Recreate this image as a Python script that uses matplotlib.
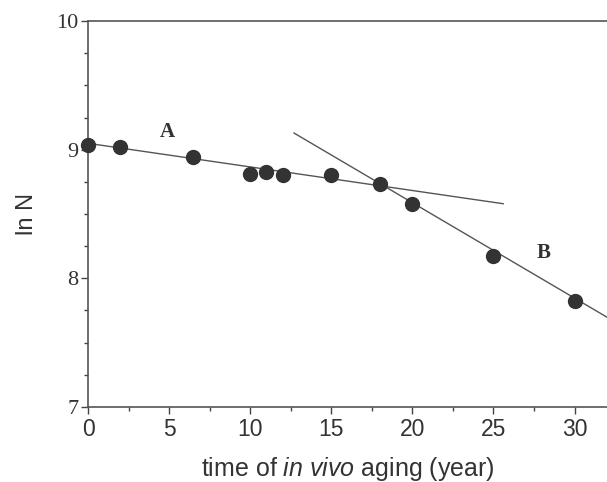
import matplotlib
matplotlib.use("Agg")
import matplotlib.pyplot as plt
from matplotlib.ticker import MultipleLocator

plt.rcParams["mathtext.fontset"] = "custom"
plt.rcParams["mathtext.it"] = "Liberation Sans:italic"
plt.rcParams["mathtext.rm"] = "Liberation Sans"

# data
years = [0, 2, 6.5, 10, 11, 12, 15, 18, 20, 25, 30]
ln_n = [9.04, 9.02, 8.94, 8.81, 8.83, 8.80, 8.80, 8.73, 8.58, 8.17, 7.82]

# fitted lines (end points)
line_a_x = [0, 25.6]
line_a_y = [9.05, 8.58]
line_b_x = [12.7, 32.5]
line_b_y = [9.13, 7.66]

x_ticks = [0, 5, 10, 15, 20, 25, 30]
y_ticks = [7, 8, 9, 10]

fig = plt.figure(figsize=(6.07, 4.82), dpi=100)
ax = fig.add_axes([0.145, 0.156, 0.855, 0.800])

ax.plot(line_a_x, line_a_y, color="#555555", lw=1.0, zorder=2)
ax.plot(line_b_x, line_b_y, color="#555555", lw=1.0, zorder=2)
ax.plot(years, ln_n, "o", color="#333333", ms=10, zorder=3, clip_on=False)

ax.text(4.9, 9.14, "A", fontfamily="Liberation Serif", fontweight="bold",
        fontsize=15, color="#333333", ha="center", va="center")
ax.text(28.1, 8.2, "B", fontfamily="Liberation Serif", fontweight="bold",
        fontsize=15, color="#333333", ha="center", va="center")

ax.set_xlim(0, 32)
ax.set_ylim(7, 10)
ax.set_xticks(x_ticks)
ax.set_yticks(y_ticks)
ax.xaxis.set_minor_locator(MultipleLocator(2.5))
ax.yaxis.set_minor_locator(MultipleLocator(0.25))

for lbl in ax.get_xticklabels():
    lbl.set_fontfamily("Liberation Sans")
    lbl.set_fontsize(16.5)
for lbl in ax.get_yticklabels():
    lbl.set_fontfamily("Liberation Serif")
    lbl.set_fontsize(16)

ax.tick_params(which="major", direction="out", length=5, width=1.0,
               colors="#444444", labelcolor="#333333")
ax.tick_params(which="minor", direction="out", length=3, width=1.0,
               colors="#444444")
ax.tick_params(axis="x", pad=3)
ax.tick_params(axis="y", pad=2)

ax.spines["right"].set_visible(False)
for s in ["left", "bottom", "top"]:
    ax.spines[s].set_color("#555555")
    ax.spines[s].set_linewidth(1.2)

ax.set_ylabel("ln N", fontfamily="Liberation Sans", fontsize=17,
              color="#333333", labelpad=13)
ax.set_xlabel("time of $\\it{in}$ $\\it{vivo}$ aging (year)", fontfamily="Liberation Sans",
              fontsize=18, color="#333333", labelpad=10)

fig.savefig("out.png", dpi=100)
